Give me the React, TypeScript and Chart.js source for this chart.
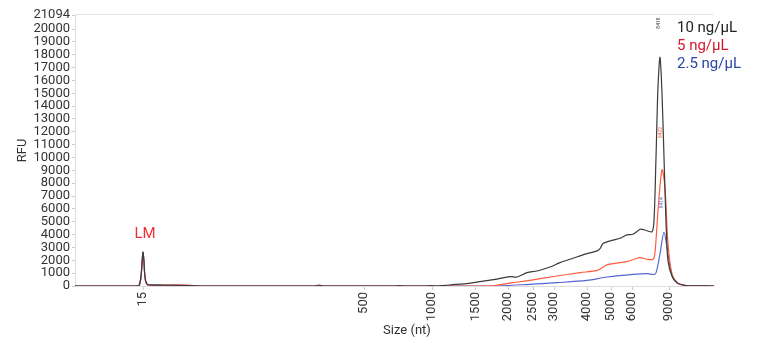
import React, { useEffect, useRef } from "react";
import { Chart, registerables } from "chart.js";

Chart.register(...registerables);

// Migration position (scan units) and RFU for each sample trace
const black10X = [0, 60, 64, 66, 67, 68, 69, 70, 72, 75, 90, 115, 130, 240, 244, 248, 320, 324, 330, 350, 356, 362, 370, 380, 392, 405, 415, 422, 435, 442, 452, 462, 475, 485, 498, 512, 522, 525, 528, 538, 545, 552, 558, 562, 565, 569, 572, 577, 579, 581, 583, 585, 587, 589, 591, 593, 597, 602, 608, 615, 639];
const black10Y = [0, 0, 40, 800, 1800, 2650, 1900, 700, 150, 80, 60, 40, 0, 0, 60, 0, 0, 40, 0, 0, 40, 0, 50, 120, 180, 340, 450, 540, 730, 700, 1040, 1170, 1480, 1820, 2160, 2520, 2730, 2900, 3300, 3570, 3720, 3980, 4030, 4240, 4420, 4380, 4300, 4220, 5080, 10000, 15500, 17800, 15000, 10000, 5000, 1950, 780, 260, 80, 20, 0];

const red5X = [0, 60, 64, 66, 67, 68, 69, 70, 72, 80, 100, 115, 120, 240, 244, 248, 415, 438, 455, 482, 505, 523, 532, 552, 560, 565, 572, 578, 580, 583, 587, 590, 593, 597, 602, 608, 615, 639];
const red5Y = [0, 0, 30, 700, 1700, 2550, 1800, 650, 120, 60, 80, 60, 0, 0, 70, 0, 0, 260, 440, 780, 1040, 1230, 1640, 1900, 2100, 2210, 2080, 2080, 2600, 5860, 9040, 7680, 3280, 940, 260, 70, 20, 0];

const blue25X = [0, 60, 64, 66, 67, 68, 69, 70, 72, 80, 100, 120, 415, 455, 482, 512, 532, 558, 572, 580, 582, 585, 589, 593, 597, 602, 608, 615, 639];
const blue25Y = [0, 0, 30, 700, 1700, 2600, 1800, 650, 120, 80, 50, 0, 0, 130, 260, 440, 700, 910, 960, 910, 1300, 2500, 4170, 2500, 780, 240, 70, 20, 0];

// Size ladder: scan position of each size marker and its label (nt)
const sizeTickPos = [68, 289, 357, 401, 433, 458, 479, 512, 536, 557, 594];
const sizeTickLabels = ["15", "500", "1000", "1500", "2000", "2500", "3000", "4000", "5000", "6000", "9000"];

const rfuTicks = [0, 1000, 2000, 3000, 4000, 5000, 6000, 7000, 8000, 9000, 10000, 11000, 12000, 13000, 14000, 15000, 16000, 17000, 18000, 19000, 20000, 21094];

const seriesNames = ["10 ng/µL", "5 ng/µL", "2.5 ng/µL"];
const lineColors = ["#3a3a3a", "#ff5d3f", "#5566d4"];
const legendColors = ["#222222", "#d4182e", "#2a45a6"];

// Peak size annotations
const peakSizes = ["8418", "8422", "8414"];
const peakPosX = [584, 586, 587];
const peakPosY = [20470, 11950, 6480];

const ladderMarkerText = "LM";
const ladderMarkerPos = [68, 4000];

const FONT = "Roboto, 'Noto Sans', sans-serif";

const toPoints = (xs: number[], ys: number[]) => xs.map((x, i) => ({ x, y: ys[i] }));

const annotations = {
  id: "annotations",
  afterDatasetsDraw(chart: any) {
    const { ctx, scales, chartArea } = chart;
    const xs = scales.x;
    const ys = scales.y;
    ctx.save();
    // top frame line
    ctx.strokeStyle = "#e4e4e4";
    ctx.lineWidth = 1;
    ctx.beginPath();
    ctx.moveTo(chartArea.left, chartArea.top - 0.5);
    ctx.lineTo(chartArea.right, chartArea.top - 0.5);
    ctx.stroke();

    // ladder marker
    ctx.fillStyle = "#ee3030";
    ctx.font = `15px ${FONT}`;
    ctx.textAlign = "center";
    ctx.textBaseline = "middle";
    ctx.fillText(ladderMarkerText, xs.getPixelForValue(ladderMarkerPos[0]) + 2, ys.getPixelForValue(ladderMarkerPos[1]));

    // peak size labels
    ctx.font = `5px ${FONT}`;
    peakSizes.forEach((s, i) => {
      const px = xs.getPixelForValue(peakPosX[i]);
      const py = ys.getPixelForValue(peakPosY[i]);
      ctx.save();
      ctx.translate(px, py);
      ctx.rotate(-Math.PI / 2);
      ctx.fillStyle = lineColors[i];
      ctx.textAlign = "center";
      ctx.textBaseline = "middle";
      ctx.fillText(s, 0, 0);
      ctx.restore();
    });

    // legend
    ctx.font = `15px ${FONT}`;
    ctx.textAlign = "left";
    ctx.textBaseline = "middle";
    seriesNames.forEach((n, i) => {
      ctx.fillStyle = legendColors[i];
      ctx.fillText(n, chartArea.right - 37, 28 + i * 18);
    });

    // x axis title
    ctx.fillStyle = "#333";
    ctx.font = `13px ${FONT}`;
    ctx.textAlign = "center";
    ctx.fillText("Size (nt)", 407, 331);
    ctx.restore();
  },
};

export default function App() {
  const ref = useRef<HTMLCanvasElement>(null);

  useEffect(() => {
    if (!ref.current) return;
    const chart = new Chart(ref.current, {
      type: "line",
      data: {
        datasets: [
          { label: seriesNames[0], data: toPoints(black10X, black10Y), borderColor: lineColors[0], borderWidth: 1.2, pointRadius: 0, tension: 0.3, order: 0 },
          { label: seriesNames[1], data: toPoints(red5X, red5Y), borderColor: lineColors[1], borderWidth: 1.2, pointRadius: 0, tension: 0.3, order: 1 },
          { label: seriesNames[2], data: toPoints(blue25X, blue25Y), borderColor: lineColors[2], borderWidth: 1.2, pointRadius: 0, tension: 0.3, order: 2 },
        ],
      },
      options: {
        animation: false,
        responsive: false,
        maintainAspectRatio: false,
        layout: { padding: { left: 15, top: 15, right: 43, bottom: 0 } },
        plugins: { legend: { display: false }, tooltip: { enabled: false } },
        scales: {
          x: {
            type: "linear",
            min: 0,
            max: 639,
            afterBuildTicks: (s: any) => {
              s.ticks = sizeTickPos.map((v) => ({ value: v }));
            },
            afterFit: (s: any) => {
              s.height = 57;
            },
            ticks: {
              autoSkip: false,
              minRotation: 90,
              maxRotation: 90,
              color: "#333",
              font: { family: FONT, size: 13 },
              padding: 2,
              callback: (_v: any, i: number) => sizeTickLabels[i],
            },
            grid: { drawOnChartArea: false, tickLength: 4, color: "#cccccc" },
            border: { color: "#dddddd" },
          },
          y: {
            min: 0,
            max: 21094,
            afterBuildTicks: (s: any) => {
              s.ticks = rfuTicks.map((v) => ({ value: v }));
            },
            afterFit: (s: any) => {
              s.width = 60;
            },
            ticks: {
              autoSkip: false,
              color: "#333",
              font: { family: FONT, size: 13 },
              padding: 2,
              callback: (v: any) => String(v),
            },
            title: { display: true, text: "RFU", color: "#333", font: { family: FONT, size: 13 }, padding: 0 },
            grid: { drawOnChartArea: false, tickLength: 3, color: "#cccccc" },
            border: { color: "#dddddd" },
          },
        },
      },
      plugins: [annotations],
    });
    return () => chart.destroy();
  }, []);

  return (
    <div style={{ position: "absolute", left: 0, top: 0, width: 757, height: 343, background: "#fff" }}>
      <canvas ref={ref} width={757} height={343} style={{ width: 757, height: 343 }} />
    </div>
  );
}
